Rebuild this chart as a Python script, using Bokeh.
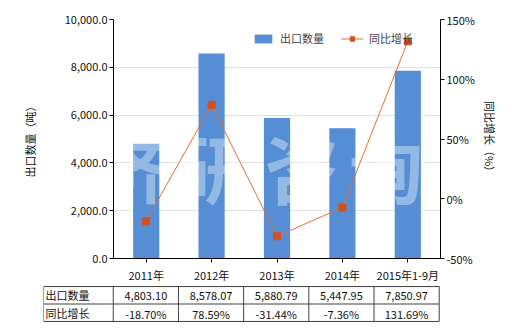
from bokeh.plotting import figure
from bokeh.layouts import column
from bokeh.models import (Range1d, LinearAxis, FixedTicker, NumeralTickFormatter,
                          PrintfTickFormatter, Legend, LegendItem, ColumnDataSource)
from bokeh.core.properties import value
from bokeh.embed import file_html
from bokeh.resources import INLINE

categories = ["2011年", "2012年", "2013年", "2014年", "2015年1-9月"]
export_qty = [4803.10, 8578.07, 5880.79, 5447.95, 7850.97]
yoy_growth = [-18.70, 78.59, -31.44, -7.36, 131.69]
left_ticks = [0, 2000, 4000, 6000, 8000, 10000]
right_ticks = [-50, 0, 50, 100, 150]
series_names = ["出口数量", "同比增长"]
watermark = ["济", "研", "咨", "询"]

FONT = "Noto Sans CJK SC"
BAR = "#558ED5"
LINE = "#E56E32"
MARK = "#D4501A"
TXT = "#111111"

src = ColumnDataSource(dict(cat=categories, qty=export_qty, yoy=yoy_growth))

p = figure(x_range=categories, y_range=Range1d(0, 10000), width=520, height=285,
           output_backend="svg", toolbar_location=None, frame_align=False,
           min_border_left=113, min_border_right=80, min_border_top=19, min_border_bottom=26)
p.outline_line_color = None
p.background_fill_color = "white"
p.xgrid.grid_line_color = None
p.ygrid.grid_line_color = "#E4E4E4"
p.ygrid.ticker = FixedTicker(ticks=left_ticks)

p.extra_y_ranges = {"pct": Range1d(-50, 150)}

bars = p.vbar(x="cat", top="qty", width=0.4, source=src, color=BAR, line_color=None)

# watermark (decorative), between bars and line
wm_x = [0.26, 1.52, 2.88, 4.17]
p.text(x=wm_x, y=[3900] * 4, text=watermark, text_font=value(FONT), text_font_size="74px",
       text_font_style="bold", text_color="white", text_alpha=0.38,
       text_align="center", text_baseline="middle")

ln = p.line(x="cat", y="yoy", source=src, y_range_name="pct", line_color=LINE, line_width=1)
sc = p.scatter(x="cat", y="yoy", source=src, y_range_name="pct", marker="square", size=7,
               fill_color=MARK, line_color=MARK)

yl = p.yaxis[0]
yl.ticker = FixedTicker(ticks=left_ticks)
yl.formatter = NumeralTickFormatter(format="0,0.0")
yl.axis_label = "出口数量（吨）"
yl.axis_label_standoff = 24

yr = LinearAxis(y_range_name="pct", ticker=FixedTicker(ticks=right_ticks),
                formatter=PrintfTickFormatter(format="%d%%"),
                axis_label="同比增长（%）", axis_label_standoff=4)
p.add_layout(yr, "right")

for ax in [p.xaxis[0], yl, yr]:
    ax.axis_line_color = "black"
    ax.major_tick_line_color = "black"
    ax.major_tick_out = 4
    ax.major_tick_in = 0
    ax.minor_tick_line_color = None
    ax.major_label_text_font = FONT
    ax.major_label_text_font_size = "11px"
    ax.major_label_text_color = TXT
    ax.major_label_standoff = 2
    ax.axis_label_text_font = FONT
    ax.axis_label_text_font_size = "11px"
    ax.axis_label_text_font_style = "normal"
    ax.axis_label_text_color = TXT
p.xaxis[0].major_label_standoff = 4

legend = Legend(items=[LegendItem(label=series_names[0], renderers=[bars]),
                       LegendItem(label=series_names[1], renderers=[ln, sc])],
                orientation="horizontal", location=(139, 212),
                glyph_width=22, glyph_height=11, label_standoff=6, spacing=17,
                padding=0, margin=0, border_line_color=None, background_fill_alpha=0,
                label_text_font=FONT, label_text_font_size="11px",
                label_height=11)
p.add_layout(legend)

# data table below, in its own figure (x: one unit per category column)
unit = 327 / len(categories)
x0 = -70 / unit
t = figure(x_range=Range1d(x0, 5.02), y_range=Range1d(-0.06, 2.06), width=520, height=45,
           output_backend="svg", toolbar_location=None, frame_align=False,
           min_border_left=43, min_border_right=80, min_border_top=0, min_border_bottom=8)
t.axis.visible = False
t.grid.visible = False
t.outline_line_color = None
LC = "#404040"
n = len(categories)
t.segment(x0=[x0] * 3, x1=[n] * 3, y0=[0, 1, 2], y1=[0, 1, 2], line_color=LC, line_width=1)
xs = [x0] + list(range(n + 1))
t.segment(x0=xs, x1=xs, y0=[0] * len(xs), y1=[2] * len(xs), line_color=LC, line_width=1)
t.text(x=[x0 + 0.03] * 2, y=[1.5, 0.5], text=series_names, text_font=value(FONT),
       text_font_size="11px", text_baseline="middle", text_align="left", text_color=TXT)
t.text(x=[i + 0.5 for i in range(n)], y=[1.45] * n,
       text=[f"{v:,.2f}" for v in export_qty], text_font=value(FONT), text_font_size="11px",
       text_baseline="middle", text_align="center", text_color=TXT)
t.text(x=[i + 0.5 for i in range(n)], y=[0.45] * n,
       text=[f"{v:.2f}%" for v in yoy_growth], text_font=value(FONT), text_font_size="11px",
       text_baseline="middle", text_align="center", text_color=TXT)

layout = column(p, t, spacing=0)
open("out.html", "w").write(file_html(layout, INLINE))
